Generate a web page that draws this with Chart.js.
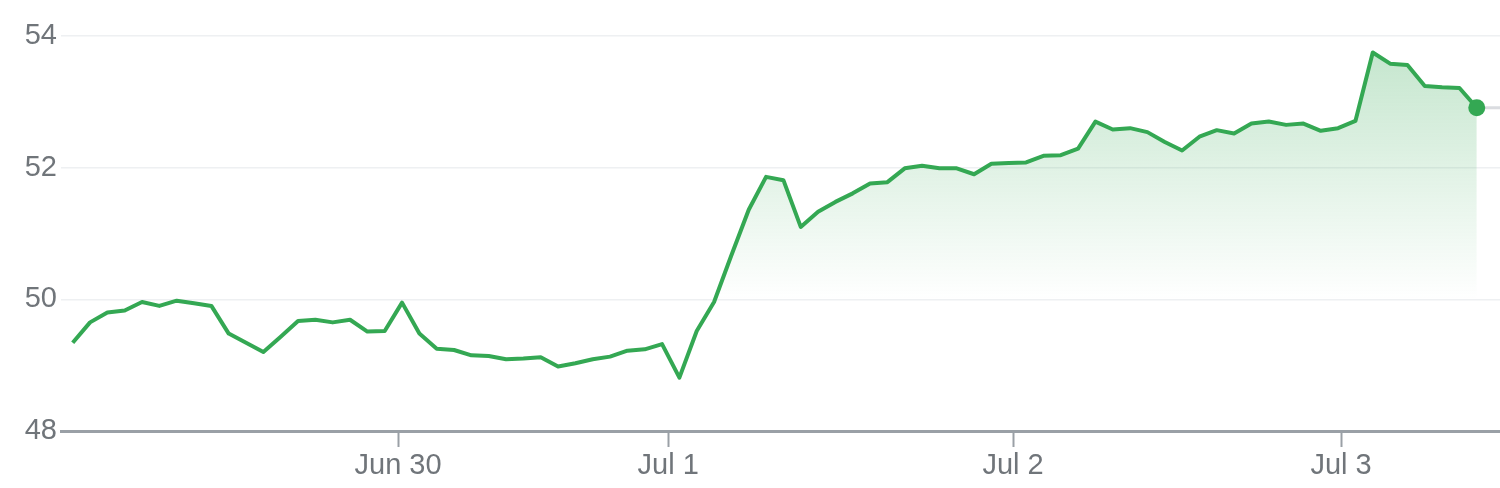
<!DOCTYPE html>
<html>
<head>
<meta charset="utf-8">
<script src="https://cdn.jsdelivr.net/npm/chart.js@4/dist/chart.umd.min.js"></script>
<style>
  html, body { margin: 0; padding: 0; background: #fff; }
  #wrap { width: 1500px; height: 488px; position: relative; }
</style>
</head>
<body>
<div id="wrap"><canvas id="priceChart"></canvas></div>
<script>
// price per sample
const prices = [
    49.34, 49.65, 49.80, 49.83, 49.96, 49.90, 49.98, 49.94, 49.90, 49.48,
    49.34, 49.20, 49.43, 49.67, 49.69, 49.65, 49.69, 49.51, 49.52, 49.95,
    49.48, 49.25, 49.23, 49.15, 49.14, 49.09, 49.10, 49.12, 48.98, 49.03,
    49.09, 49.13, 49.22, 49.24, 49.32, 48.81, 49.52, 49.96, 50.67, 51.36,
    51.86, 51.81, 51.10, 51.33, 51.48, 51.61, 51.76, 51.78, 51.99, 52.03,
    51.99, 51.99, 51.90, 52.06, 52.07, 52.08, 52.18, 52.19, 52.29, 52.70,
    52.58, 52.60, 52.54, 52.39, 52.26, 52.47, 52.57, 52.52, 52.67, 52.70,
    52.65, 52.67, 52.56, 52.60, 52.71, 53.75, 53.58, 53.56, 53.24, 53.22,
    53.21, 52.91,
]
const dayLabels = ['Jun 30', 'Jul 1', 'Jul 2', 'Jul 3']
const dayAt = [18.77, 34.35, 54.25, 73.17]
const yTicks = [48, 50, 52, 54]
const baseline = 50

const green = '#34a853'
const labelFont = { family: '"Liberation Sans", Arial, sans-serif', size: 29 }
const lastIndex = prices.length - 1
const xMin = -0.675
const xMax = lastIndex + 1.34

function fillGradient(context) {
    const chart = context.chart
    const area = chart.chartArea
    if (!area) return 'rgba(52,168,83,0.1)'
    const bottom = chart.scales.y.getPixelForValue(baseline)
    const g = chart.ctx.createLinearGradient(0, area.top, 0, bottom)
    g.addColorStop(0, 'rgba(52,168,83,0.30)')
    g.addColorStop(1, 'rgba(52,168,83,0)')
    return g
}

new Chart(document.getElementById('priceChart'), {
    type: 'line',
    data: {
        datasets: [
            {
                data: prices.map((p, i) => ({ x: i, y: p })),
                borderColor: green,
                borderWidth: 4,
                borderJoinStyle: 'round',
                tension: 0,
                fill: { target: { value: baseline } },
                backgroundColor: fillGradient,
                pointRadius: ctx => (ctx.dataIndex === lastIndex ? 8.5 : 0),
                pointHoverRadius: ctx => (ctx.dataIndex === lastIndex ? 8.5 : 0),
                pointBackgroundColor: green,
                pointBorderWidth: 0,
            },
            {
                // flat continuation of the last price
                data: [
                    { x: lastIndex, y: prices[lastIndex] },
                    { x: xMax, y: prices[lastIndex] },
                ],
                borderColor: '#dadce0',
                borderWidth: 3,
                pointRadius: 0,
                fill: false,
            },
        ],
    },
    options: {
        responsive: true,
        maintainAspectRatio: false,
        animation: false,
        layout: { autoPadding: false, padding: { top: 36, right: 0, bottom: 0, left: 0 } },
        plugins: {
            legend: { display: false },
            tooltip: { enabled: false },
        },
        scales: {
            x: {
                type: 'linear',
                min: xMin,
                max: xMax,
                afterBuildTicks: scale => {
                    scale.ticks = dayAt.map(v => ({ value: v }))
                },
                afterFit: scale => { scale.height = 57 },
                ticks: {
                    autoSkip: false,
                    maxRotation: 0,
                    padding: 2,
                    color: '#70757a',
                    font: labelFont,
                    callback: (value, index) => dayLabels[index],
                },
                grid: {
                    drawOnChartArea: false,
                    drawTicks: true,
                    tickLength: 16,
                    tickWidth: 2,
                    tickColor: '#9aa0a6',
                },
                border: { display: true, color: '#9aa0a6', width: 3 },
            },
            y: {
                min: 48,
                max: 54,
                afterBuildTicks: scale => {
                    scale.ticks = yTicks.map(v => ({ value: v }))
                },
                afterFit: scale => { scale.width = 61 },
                ticks: {
                    padding: 4,
                    color: '#70757a',
                    font: labelFont,
                },
                grid: {
                    drawTicks: false,
                    lineWidth: 1.5,
                    color: ctx => (ctx.tick && ctx.tick.value === 48 ? 'rgba(0,0,0,0)' : '#eef0f2'),
                },
                border: { display: false },
            },
        },
    },
})
</script>
</body>
</html>
